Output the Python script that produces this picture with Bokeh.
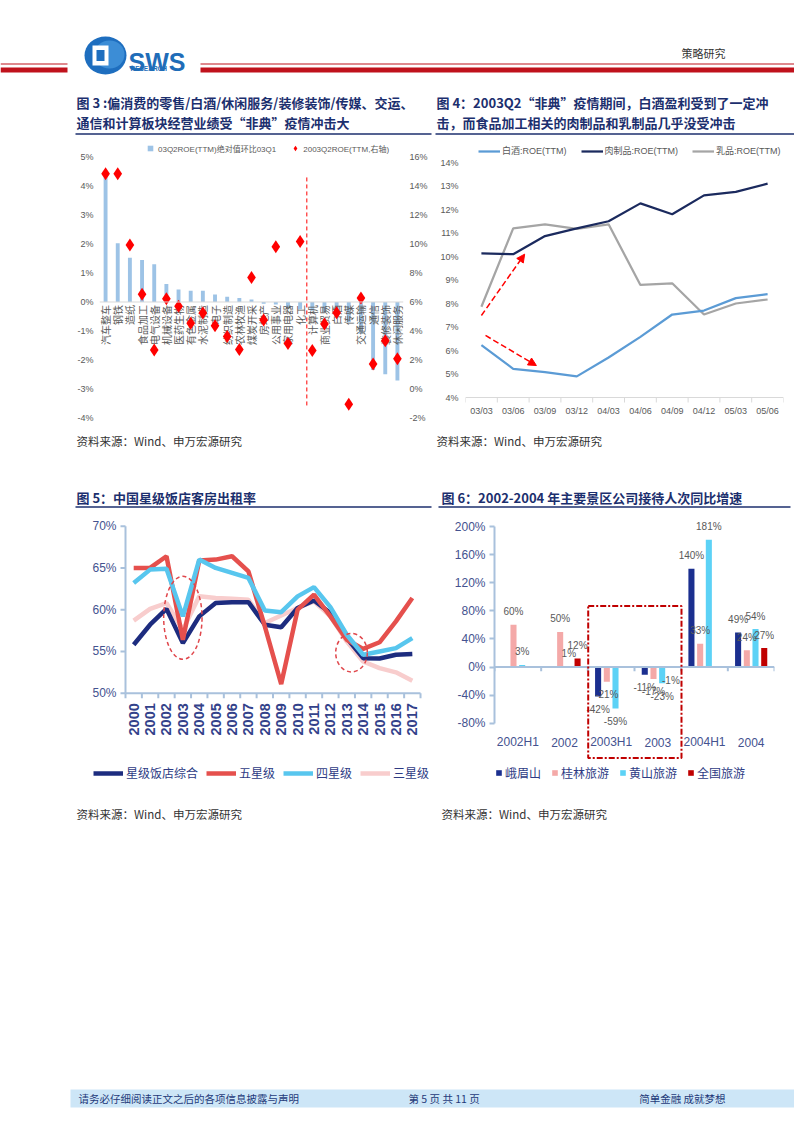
import math
import numpy as np
from bokeh.plotting import figure
from bokeh.models import (LinearAxis, Range1d, FixedTicker, PrintfTickFormatter,
                          Legend, LegendItem, Arrow, NormalHead, Spacer, Span)
from bokeh.layouts import column, row
from bokeh.core.properties import value
from bokeh.embed import file_html
from bokeh.resources import INLINE

# ---------------- data ----------------
# Figure 3
sectors = ["汽车整车", "钢铁", "造纸", "食品加工", "电气设备", "机械设备", "医药生物", "有色金属",
           "水泥制造", "电子", "纺织制造", "农林牧渔", "煤炭开采", "房地产", "公用事业", "家用电器",
           "化工", "计算机", "商业贸易", "白酒", "传媒", "交通运输", "通信", "装修装饰", "休闲服务"]
roe_change = [4.35, 2.03, 1.53, 1.45, 1.31, 0.62, 0.43, 0.39, 0.39, 0.26, 0.18, 0.14, 0.09,
              -0.06, -0.09, -0.2, -0.25, -0.3, -0.35, -0.45, -0.7, -1.1, -2.35, -2.5, -2.72]
roe_2003q2 = [14.87, 14.87, 9.95, 6.54, 2.67, 6.23, 5.7, 4.52, 5.23, 4.36, 3.61, 2.72, 7.7,
              4.76, 9.82, 3.12, 10.18, 2.65, 4.48, 5.25, -1.07, 6.28, 1.71, 3.31, 2.07]
# Figure 4
quarters = ["03/03", "03/06", "03/09", "03/12", "04/03", "04/06", "04/09", "04/12", "05/03", "05/06"]
baijiu_roe = [6.23, 5.22, 5.08, 4.9, 5.7, 6.58, 7.53, 7.7, 8.23, 8.4]
meat_roe = [10.13, 10.1, 10.87, 11.2, 11.5, 12.26, 11.8, 12.6, 12.75, 13.1]
dairy_roe = [7.86, 11.2, 11.37, 11.18, 11.37, 8.79, 8.86, 7.53, 8.0, 8.17]
roe_ticks = [4, 5, 6, 7, 8, 9, 10, 11, 12, 13, 14]
# Figure 5
years = ["2000", "2001", "2002", "2003", "2004", "2005", "2006", "2007", "2008",
         "2009", "2010", "2011", "2012", "2013", "2014", "2015", "2016", "2017"]
hotel_all = [55.8, 58.2, 60.1, 56.0, 59.2, 60.8, 60.9, 60.9, 58.2, 57.9, 60.2, 61.1, 59.6, 56.6, 54.2, 54.15, 54.6, 54.7]
hotel_5 = [65.0, 65.0, 66.4, 56.4, 65.9, 66.0, 66.4, 64.6, 58.0, 51.1, 60.0, 61.8, 59.2, 56.4, 55.3, 56.1, 58.6, 61.4]
hotel_4 = [63.2, 64.8, 64.9, 59.2, 66.0, 65.0, 64.4, 63.8, 59.9, 59.7, 61.6, 62.7, 60.3, 57.0, 54.6, 55.0, 55.4, 56.6]
hotel_3 = [58.7, 60.1, 60.8, 57.6, 61.6, 61.4, 61.3, 61.2, 58.4, 59.3, 60.2, 61.0, 59.2, 56.2, 53.8, 53.0, 52.5, 51.5]
occ_ticks = [50, 55, 60, 65, 70]
# Figure 6
periods = ["2002H1", "2002", "2003H1", "2003", "2004H1", "2004"]
emeishan = [np.nan, np.nan, -42, -11, 140, 49]
guilin = [60, 50, -21, -17, 33, 24]
huangshan = [3, 1, -59, -23, 181, 54]
national = [np.nan, 12, np.nan, -1, np.nan, 27]
growth_ticks = [-80, -40, 0, 40, 80, 120, 160, 200]

# ---------------- styles ----------------
CJK = "Noto Sans CJK SC"
NARROW = "Liberation Sans Narrow, Liberation Sans, Noto Sans CJK SC"
SANS = "Liberation Sans"
NAVY_T = "#1C2F6E"
GRAY_T = "#595959"
BLUE_T = "#44528F"
LEG_T = "#2E3B84"
RED = "#C0121C"
AX = "#A9C1DC"


def page_fig(w, h, x0, y0):
    p = figure(width=w, height=h, x_range=Range1d(x0, x0 + w), y_range=Range1d(y0 + h, y0),
               x_axis_location=None, y_axis_location=None, toolbar_location=None,
               output_backend="svg", min_border=0, outline_line_color=None)
    for g in p.grid:
        g.visible = False
    return p


def chart_fig(w, h, xr, yr, left, right, top, bottom):
    p = figure(width=w, height=h, x_range=xr, y_range=yr, x_axis_location=None,
               y_axis_location=None, toolbar_location=None, output_backend="svg",
               min_border_left=left, min_border_right=right, min_border_top=top,
               min_border_bottom=bottom, outline_line_color=None)
    for g in p.grid:
        g.visible = False
    return p


def ptext(p, x, y, s, size, color, font=CJK, bold=False, align="left", baseline="middle"):
    p.text(x=[x], y=[y], text=[s], text_font=value(font), text_font_size=size,
           text_color=color, text_font_style="bold" if bold else "normal",
           text_align=align, text_baseline=baseline)


def style_axis(ax, font, size, color, standoff, bold=False, line=None, line_w=1,
               tick_out=0, minor_out=0):
    ax.major_label_text_font = font
    ax.major_label_text_font_size = size
    ax.major_label_text_color = color
    ax.major_label_text_font_style = "bold" if bold else "normal"
    ax.major_label_standoff = standoff
    ax.axis_line_color = line
    ax.axis_line_width = line_w
    ax.major_tick_in = 0
    ax.major_tick_out = tick_out
    ax.major_tick_line_color = line if tick_out else None
    ax.major_tick_line_width = line_w
    ax.minor_tick_in = 0
    ax.minor_tick_out = minor_out
    ax.minor_tick_line_color = line if minor_out else None
    ax.minor_tick_line_width = line_w


# ---------------- header (page y 0..138) ----------------
hdr = page_fig(794, 138, 0, 0)
hdr.segment(x0=[0, 200], y0=[63.5, 63.5], x1=[67, 794], y1=[63.5, 63.5], line_color=RED, line_width=1.2)
hdr.segment(x0=[0, 200], y0=[69.5, 69.5], x1=[67, 794], y1=[69.5, 69.5], line_color=RED, line_width=5)
hdr.ellipse(x=[105], y=[55], width=[42], height=[38], fill_color="#1E6EBF", line_color=None)
hdr.ellipse(x=[109], y=[54], width=[30], height=[28], fill_color="#3C8DD6", line_color=None)
hdr.rect(x=[100], y=[55], width=[16], height=[20], fill_color="white", line_color=None)
hdr.rect(x=[100], y=[55], width=[8], height=[11], fill_color="#1E6EBF", line_color=None)
ptext(hdr, 128, 61, "SWS", "25px", "#1F6DB8", font=SANS, bold=True, baseline="alphabetic")
ptext(hdr, 130, 68, "RESEARCH", "6.5px", "#1F6DB8", font=SANS, bold=True)
ptext(hdr, 725, 52, "策略研究", "11px", "#333333", align="right")
ptext(hdr, 76, 102, "图 3 :偏消费的零售/白酒/休闲服务/装修装饰/传媒、交运、", "13px", NAVY_T, bold=True)
ptext(hdr, 76, 122, "通信和计算板块经营业绩受“非典”疫情冲击大", "13px", NAVY_T, bold=True)
ptext(hdr, 436, 102, "图 4：2003Q2“非典”疫情期间，白酒盈利受到了一定冲", "13px", NAVY_T, bold=True)
ptext(hdr, 436, 122, "击，而食品加工相关的肉制品和乳制品几乎没受冲击", "13px", NAVY_T, bold=True)
hdr.segment(x0=[75, 435], y0=[133.5, 133.5], x1=[431, 796], y1=[133.5, 133.5],
            line_color=NAVY_T, line_width=1.5)

# ---------------- figure 3 (page x 70..430, y 138..425) ----------------
idx3 = list(range(len(sectors)))
L_TOP, L_BOT = 5.588, -4.274
p3 = chart_fig(360, 287, Range1d(-0.5, len(sectors) - 0.5), Range1d(L_BOT, L_TOP), 29, 21, 2, 0)
p3.extra_y_ranges = {"right": Range1d(2 * L_BOT + 6, 2 * L_TOP + 6)}
p3.add_layout(Span(location=0, dimension="width", line_color="#D9D9D9", line_width=1))
b3 = p3.vbar(x=idx3, top=roe_change, bottom=0, width=0.32, fill_color="#9DC3E6", line_color=None)
p3.segment(x0=[16.55], y0=[-3.58], x1=[16.55], y1=[4.34], line_color="#FF0000",
           line_dash="4 3", line_width=1)
p3.text(x=idx3, y=[0] * len(sectors), text=sectors, angle=math.pi / 2, text_align="right",
        text_baseline="middle", y_offset=3, text_font=value(CJK), text_font_size="10px",
        text_color=GRAY_T)
d3 = p3.scatter(x=idx3, y=roe_2003q2, marker="diamond", size=13, fill_color="#FF0000",
                line_color=None, y_range_name="right")
proxy_sq = p3.scatter(x=[np.nan], y=[np.nan], marker="square", fill_color="#9DC3E6", line_color=None)
ax3l = LinearAxis(ticker=FixedTicker(ticks=list(range(-4, 6))), formatter=PrintfTickFormatter(format="%d%%"))
style_axis(ax3l, NARROW, "9px", GRAY_T, 6)
p3.add_layout(ax3l, "left")
ax3r = LinearAxis(y_range_name="right", ticker=FixedTicker(ticks=list(range(-2, 17, 2))),
                  formatter=PrintfTickFormatter(format="%d%%"))
style_axis(ax3r, NARROW, "9px", GRAY_T, 6)
p3.add_layout(ax3r, "right")
leg3 = Legend(items=[LegendItem(label="03Q2ROE(TTM)绝对值环比03Q1", renderers=[proxy_sq]),
                     LegendItem(label="2003Q2ROE(TTM,右轴)", renderers=[d3])],
              orientation="horizontal", location=(44, 269), padding=0, margin=0, spacing=12,
              label_standoff=1, glyph_width=14, glyph_height=16, label_height=10,
              label_text_font=NARROW, label_text_font_size="8px", label_text_color=GRAY_T,
              background_fill_alpha=0, border_line_color=None)
p3.add_layout(leg3)

# ---------------- figure 4 (page x 430..794, y 138..425) ----------------
idx4 = list(range(len(quarters)))
Y4_TOP = 4 + 257 / 23.5
Y4_BOT = 4 - 28 / 23.5
p4 = chart_fig(364, 287, Range1d(-0.5, len(quarters) - 0.5), Range1d(Y4_BOT, Y4_TOP), 35, 11, 2, 0)
bounds4 = [k - 0.5 for k in range(len(quarters) + 1)]
p4.segment(x0=[-0.5], y0=[4], x1=[len(quarters) - 0.5], y1=[4], line_color="#D9D9D9", line_width=1)
p4.segment(x0=bounds4, y0=[4] * len(bounds4), x1=bounds4, y1=[4 - 5 / 23.5] * len(bounds4),
           line_color="#D9D9D9", line_width=1)
p4.text(x=idx4, y=[4] * len(quarters), text=quarters, y_offset=13, text_align="center",
        text_baseline="middle", text_font=value(NARROW), text_font_size="9px", text_color=GRAY_T)
l_dairy = p4.line(x=idx4, y=dairy_roe, line_color="#A5A5A5", line_width=2.25)
l_meat = p4.line(x=idx4, y=meat_roe, line_color="#1B2A5E", line_width=2.25)
l_bai = p4.line(x=idx4, y=baijiu_roe, line_color="#5B9BD5", line_width=2.25)
arrows4 = [(0.0, 7.49, 1.36, 10.1), (0.13, 6.64, 1.73, 5.36)]
for xs, ys, xe, ye in arrows4:
    p4.add_layout(Arrow(end=NormalHead(size=8, fill_color="#FF0000", line_color="#FF0000"),
                        x_start=xs, y_start=ys, x_end=xe, y_end=ye,
                        line_color="#FF0000", line_width=1.5, line_dash="6 3"))
ax4y = LinearAxis(ticker=FixedTicker(ticks=roe_ticks), formatter=PrintfTickFormatter(format="%d%%"))
style_axis(ax4y, NARROW, "9px", GRAY_T, 7)
p4.add_layout(ax4y, "left")
leg4 = Legend(items=[LegendItem(label="白酒:ROE(TTM)", renderers=[l_bai]),
                     LegendItem(label="肉制品:ROE(TTM)", renderers=[l_meat]),
                     LegendItem(label="乳品:ROE(TTM)", renderers=[l_dairy])],
              orientation="horizontal", location=(13, 268), padding=0, margin=0, spacing=14,
              label_standoff=2, glyph_width=22, glyph_height=10, label_height=10,
              label_text_font=NARROW, label_text_font_size="9px", label_text_color=GRAY_T,
              background_fill_alpha=0, border_line_color=None)
p4.add_layout(leg4)

# ---------------- middle band (page y 425..512) ----------------
mid = page_fig(794, 87, 0, 425)
ptext(mid, 76, 440, "资料来源：Wind、申万宏源研究", "11.5px", "#333333")
ptext(mid, 436, 440, "资料来源：Wind、申万宏源研究", "11.5px", "#333333")
ptext(mid, 76, 497, "图 5：中国星级饭店客房出租率", "13px", NAVY_T, bold=True)
ptext(mid, 441, 497, "图 6：2002-2004 年主要景区公司接待人次同比增速", "13px", NAVY_T, bold=True)
mid.segment(x0=[75, 438], y0=[506.5, 506.5], x1=[431, 790], y1=[506.5, 506.5],
            line_color=NAVY_T, line_width=1.5)

# ---------------- figure 5 (page x 70..432, y 512..790) ----------------
idx5 = list(range(len(years)))
PX5 = 16.39          # px per category
PY5 = 8.35           # px per percentage point
X5_L = -0.5 - 39 / PX5
X5_R = X5_L + 346 / PX5
Y5_TOP = 50 + (692.7 - 518) / PY5
Y5_BOT = 50 - (790 - 692.7) / PY5
p5 = chart_fig(362, 278, Range1d(X5_L, X5_R), Range1d(Y5_BOT, Y5_TOP), 16, 0, 6, 0)
bounds5 = [k - 0.5 for k in range(len(years) + 1)]
# axes drawn through the plot's scales
p5.segment(x0=[-0.5], y0=[50], x1=[len(years) - 0.5], y1=[50], line_color=AX, line_width=2)
p5.segment(x0=bounds5, y0=[50] * len(bounds5), x1=bounds5, y1=[50 - 5 / PY5] * len(bounds5),
           line_color=AX, line_width=2)
p5.segment(x0=[-0.5], y0=[occ_ticks[0]], x1=[-0.5], y1=[occ_ticks[-1]], line_color=AX, line_width=2)
p5.segment(x0=[-0.5 - 5 / PX5] * len(occ_ticks), y0=occ_ticks, x1=[-0.5] * len(occ_ticks), y1=occ_ticks,
           line_color=AX, line_width=2)
p5.text(x=[-0.5] * len(occ_ticks), y=occ_ticks, text=[f"{t}%" for t in occ_ticks], x_offset=-9,
        text_align="right", text_baseline="middle", text_font=value(SANS), text_font_size="12px",
        text_color=BLUE_T)
p5.text(x=idx5, y=[50] * len(years), text=years, angle=math.pi / 2, y_offset=10,
        text_align="right", text_baseline="middle", text_font=value(SANS), text_font_size="14.5px",
        text_font_style="bold", text_color="#33428A")
r3 = p5.line(x=idx5, y=hotel_3, line_color="#F8CDCD", line_width=4.5)
rA = p5.line(x=idx5, y=hotel_all, line_color="#1D2C7F", line_width=4.5)
r5 = p5.line(x=idx5, y=hotel_5, line_color="#E5504D", line_width=4.5)
r4 = p5.line(x=idx5, y=hotel_4, line_color="#58C6EE", line_width=4.5)
p5.ellipse(x=[3.0, 13.29], y=[59.03, 54.85], width=[2.34, 1.93], height=[9.94, 4.6],
           fill_color=None, line_color="#E0474C", line_dash="4 3", line_width=1.5)
leg5 = Legend(items=[LegendItem(label="星级饭店综合", renderers=[rA]),
                     LegendItem(label="五星级", renderers=[r5]),
                     LegendItem(label="四星级", renderers=[r4]),
                     LegendItem(label="三星级", renderers=[r3])],
              orientation="horizontal", location=(7, 9), padding=0, margin=0, spacing=8,
              label_standoff=3, glyph_width=30, glyph_height=16, label_height=16,
              label_text_font=CJK, label_text_font_size="12px", label_text_color=LEG_T,
              background_fill_alpha=0, border_line_color=None)
p5.add_layout(leg5)

# ---------------- figure 6 (page x 432..794, y 512..790) ----------------
n6 = len(periods)
Y6_TOP = 211.39
Y6_BOT = Y6_TOP - 272 / 0.7025
p6 = chart_fig(362, 278, Range1d(-0.5, n6 - 0.5), Range1d(Y6_BOT, Y6_TOP), 62, 20, 6, 0)
series6 = [("峨眉山", emeishan, "#1B2F8F", -0.28), ("桂林旅游", guilin, "#F4A9A8", -0.093),
           ("黄山旅游", huangshan, "#5CD2F6", 0.093), ("全国旅游", national, "#C00000", 0.28)]
items6 = []
for name, vals, col, off in series6:
    xs = [i + off for i in range(n6)]
    r = p6.vbar(x=xs, top=vals, bottom=0, width=0.13, fill_color=col, line_color=None)
    items6.append(LegendItem(label=name, renderers=[r]))
for name, vals, col, off in series6:
    pts = [(i + off, v) for i, v in enumerate(vals) if not np.isnan(v)]
    p6.text(x=[a for a, _ in pts], y=[v for _, v in pts], text=[f"{v:.0f}%" for _, v in pts],
            y_offset=[-13 if v >= 0 else 13 for _, v in pts], text_align="center",
            text_baseline="middle", text_font=value(NARROW), text_font_size="10px",
            text_color=GRAY_T)
bounds6 = [k - 0.5 for k in range(n6 + 1)]
p6.segment(x0=[-0.5], y0=[0], x1=[n6 - 0.5], y1=[0], line_color=AX, line_width=2)
p6.segment(x0=bounds6, y0=[0] * len(bounds6), x1=bounds6, y1=[-6] * len(bounds6),
           line_color=AX, line_width=2)
p6.text(x=list(range(n6)), y=[-107] * n6, text=periods, text_align="center", text_baseline="middle",
        text_font=value(SANS), text_font_size="12px", text_color=BLUE_T)
p6.quad(left=[1.508], right=[3.507], top=[86.8], bottom=[-129.5], fill_color=None,
        line_color="#C00000", line_width=2, line_dash="6 2 2 2")
ax6y = LinearAxis(ticker=FixedTicker(ticks=growth_ticks), formatter=PrintfTickFormatter(format="%d%%"))
ax6y.bounds = (growth_ticks[0], growth_ticks[-1])
style_axis(ax6y, SANS, "12px", BLUE_T, 4, line=AX, line_w=2, tick_out=5)
p6.add_layout(ax6y, "left")
leg6 = Legend(items=items6, orientation="horizontal", location=(1, 9), padding=0, margin=0,
              spacing=10, label_standoff=3, glyph_width=7, glyph_height=7, label_height=12,
              label_text_font=CJK, label_text_font_size="12px", label_text_color=LEG_T,
              background_fill_alpha=0, border_line_color=None)
p6.add_layout(leg6)

# ---------------- bottom band (page y 790..1125) ----------------
bot = page_fig(794, 335, 0, 790)
ptext(bot, 76, 813, "资料来源：Wind、申万宏源研究", "11.5px", "#333333")
ptext(bot, 441, 813, "资料来源：Wind、申万宏源研究", "11.5px", "#333333")
bot.quad(left=[70], right=[797], top=[1089], bottom=[1107], fill_color="#CDE6F7", line_color=None)
ptext(bot, 78, 1098, "请务必仔细阅读正文之后的各项信息披露与声明", "10.5px", "#1F3A7A")
ptext(bot, 408, 1098, "第 5 页 共 11 页", "10.5px", "#1F3A7A")
ptext(bot, 725, 1098, "简单金融 成就梦想", "10.5px", "#1F3A7A", align="right")

layout = column(
    hdr,
    row(Spacer(width=70, height=287), p3, p4),
    mid,
    row(Spacer(width=70, height=278), p5, p6),
    bot,
)

with open("out.html", "w") as f:
    f.write(file_html(layout, INLINE))
